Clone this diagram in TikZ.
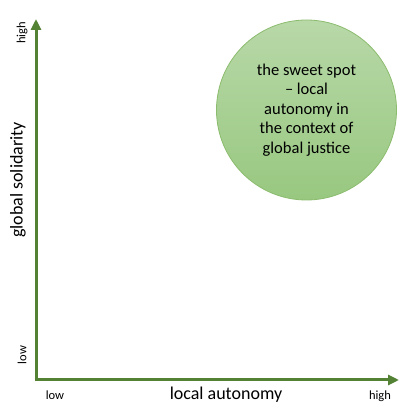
\documentclass[tikz,border=0pt]{standalone}
\usepackage{fontspec}
\setmainfont{Carlito}
\definecolor{axisgreen}{RGB}{84,130,53}
\definecolor{spottop}{RGB}{184,216,168}
\definecolor{spotbottom}{RGB}{152,200,128}
\definecolor{spotline}{RGB}{140,188,110}
\usetikzlibrary{arrows.meta,positioning}

\begin{document}
\begin{tikzpicture}[x=1pt,y=1pt,
    axis/.style={draw=axisgreen,line width=3pt,-{Triangle[length=11pt,width=10pt]}},
    ticklabel/.style={font=\fontsize{12.5}{15}\selectfont,inner sep=0pt},
    axislabel/.style={font=\fontsize{18}{21}\selectfont,inner sep=0pt}]
  \useasboundingbox[fill=white] (0,0) rectangle (418,415);

  % Axes
  \coordinate (origin) at (36,35);
  \coordinate (xend) at (399,35);
  \coordinate (yend) at (36,396);
  \draw[axis] ([xshift=-1.5pt]origin) -- (xend);
  \draw[axis] ([yshift=-1.5pt]origin) -- (yend);

  % Axis labels
  \node[axislabel] (xlabel) at (226,20) {local autonomy};
  \node[axislabel,rotate=90] (ylabel) at (18,235) {global solidarity};
  \node[ticklabel] (xlow) at (55,20) {low};
  \node[ticklabel] (xhigh) at (380,19) {high};
  \node[ticklabel,rotate=90] (ylow) at (22,60) {low};
  \node[ticklabel,rotate=90] (yhigh) at (22,382) {high};

  % Sweet spot
  \node[circle,draw=spotline,line width=0.8pt,top color=spottop,bottom color=spotbottom,
        minimum size=180pt,inner sep=0pt,align=center,
        font=\fontsize{16.5}{19.5}\selectfont] (spot) at (306.5,305)
        {the sweet spot\\-- local\\autonomy in\\the context of\\global justice};
\end{tikzpicture}
\end{document}
